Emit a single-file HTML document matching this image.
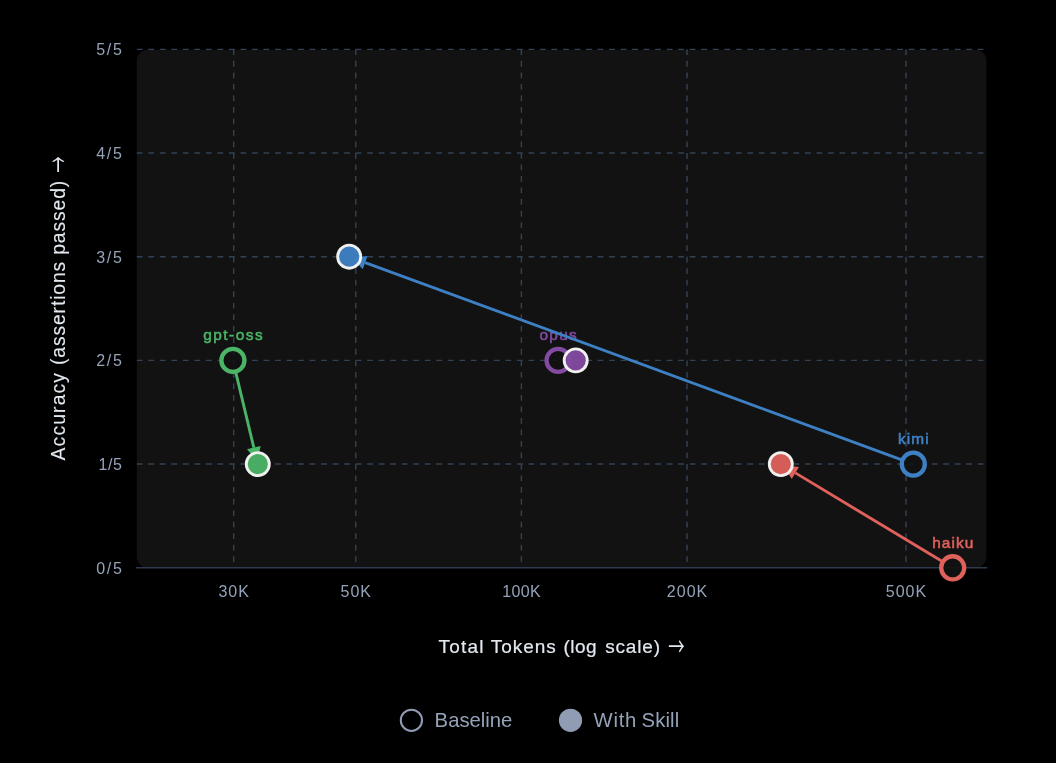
<!DOCTYPE html>
<html lang="en"><head><meta charset="utf-8"><title>Accuracy vs Total Tokens</title>
<style>
html,body{margin:0;padding:0;background:#000;}
body{width:1056px;height:763px;overflow:hidden;position:relative;font-family:"Liberation Sans", sans-serif;}
svg{position:absolute;left:0;top:0;display:block;}
text{font-family:"Liberation Sans", sans-serif;}
.tick{fill:#94a3b8;font-size:16px;}
.title{fill:#e2e8f0;font-size:19px;stroke:#e2e8f0;stroke-width:0.2px;}
.lbl{font-size:15.4px;stroke-width:0.55px;}
.leg{fill:#94a3b8;font-size:20.3px;}
</style></head><body>
<svg width="1056" height="763" viewBox="0 0 1056 763">
<rect x="136.80" y="49.65" width="849.60" height="518.10" rx="11" ry="11" fill="#121212"/>
<g stroke="#334155" stroke-width="1.44" stroke-dasharray="5.76 5.76" fill="none">
<line x1="136.80" y1="464.07" x2="986.40" y2="464.07"/>
<line x1="136.80" y1="360.39" x2="986.40" y2="360.39"/>
<line x1="136.80" y1="256.71" x2="986.40" y2="256.71"/>
<line x1="136.80" y1="153.03" x2="986.40" y2="153.03"/>
<line x1="136.80" y1="49.35" x2="986.40" y2="49.35"/>
<line x1="233.69" y1="49.35" x2="233.69" y2="567.75"/>
<line x1="355.76" y1="49.35" x2="355.76" y2="567.75"/>
<line x1="521.40" y1="49.35" x2="521.40" y2="567.75"/>
<line x1="687.03" y1="49.35" x2="687.03" y2="567.75"/>
<line x1="906.00" y1="49.35" x2="906.00" y2="567.75"/>
</g>
<line x1="136.80" y1="567.85" x2="986.40" y2="567.85" stroke="#2e3a4d" stroke-width="1.5" stroke-linecap="square"/>
<text class="tick" x="122.0" y="573.65" text-anchor="end" textLength="25.8" lengthAdjust="spacing">0/5</text>
<text class="tick" x="122.0" y="469.97" text-anchor="end" textLength="23.4" lengthAdjust="spacing">1/5</text>
<text class="tick" x="122.0" y="366.29" text-anchor="end" textLength="25.8" lengthAdjust="spacing">2/5</text>
<text class="tick" x="122.0" y="262.61" text-anchor="end" textLength="25.8" lengthAdjust="spacing">3/5</text>
<text class="tick" x="122.0" y="158.93" text-anchor="end" textLength="25.8" lengthAdjust="spacing">4/5</text>
<text class="tick" x="122.0" y="55.25" text-anchor="end" textLength="25.8" lengthAdjust="spacing">5/5</text>
<text class="tick" x="233.69" y="597.1" text-anchor="middle" textLength="30.4" lengthAdjust="spacing">30K</text>
<text class="tick" x="355.76" y="597.1" text-anchor="middle" textLength="30.4" lengthAdjust="spacing">50K</text>
<text class="tick" x="521.40" y="597.1" text-anchor="middle" textLength="38.4" lengthAdjust="spacing">100K</text>
<text class="tick" x="687.03" y="597.1" text-anchor="middle" textLength="40.4" lengthAdjust="spacing">200K</text>
<text class="tick" x="906.00" y="597.1" text-anchor="middle" textLength="40.4" lengthAdjust="spacing">500K</text>
<text class="title"><tspan x="438.6" y="653.2" textLength="45.0" lengthAdjust="spacing">Total</tspan> <tspan x="490.8" y="653.2" textLength="65.0" lengthAdjust="spacing">Tokens</tspan> <tspan x="563.4" y="653.2" textLength="33.2" lengthAdjust="spacing">(log</tspan> <tspan x="605.2" y="653.2" textLength="54.8" lengthAdjust="spacing">scale)</tspan> <tspan x="668.2" y="656.1" textLength="16.4" lengthAdjust="spacingAndGlyphs" style="font-family:&quot;Noto Sans CJK SC&quot;,&quot;Liberation Sans&quot;,sans-serif;font-size:25.5px;stroke:none">→</tspan></text>
<g transform="translate(64.7,460.6) rotate(-90)"><text class="title" style="font-size:19.3px;stroke-width:0.1px"><tspan x="0.2" y="0" textLength="87.4" lengthAdjust="spacing">Accuracy</tspan> <tspan x="95.6" y="0" textLength="103.2" lengthAdjust="spacing">(assertions</tspan> <tspan x="205.8" y="0" textLength="74.0" lengthAdjust="spacing">passed)</tspan> <tspan x="287.8" y="3.5" textLength="16.4" lengthAdjust="spacingAndGlyphs" style="font-family:&quot;Noto Sans CJK SC&quot;,&quot;Liberation Sans&quot;,sans-serif;font-size:25.5px;stroke:none">→</tspan></text></g>
<g>
<line x1="235.59" y1="371.60" x2="253.83" y2="447.57" stroke="#4bb467" stroke-width="2.88"/>
<polygon points="247.02,449.20 251.59,454.69 259.06,452.90 260.64,445.94" fill="#4bb467"/>
<circle cx="232.9" cy="360.4" r="11.52" fill="#121212" fill-opacity="0.9" stroke="#4bb467" stroke-width="4.32"/>
<circle cx="257.8" cy="464.1" r="11.52" fill="#4bb467" fill-opacity="0.96" stroke="#f0f0f0" stroke-width="2.88"/>
<text class="lbl" x="232.9" y="340.10" text-anchor="middle" fill="#4bb467" stroke="#4bb467" textLength="59.4" lengthAdjust="spacing">gpt-oss</text>
</g>
<g>
<circle cx="558.1" cy="360.4" r="11.52" fill="#121212" fill-opacity="0.9" stroke="#824aa0" stroke-width="4.32"/>
<circle cx="575.7" cy="360.4" r="11.52" fill="#824aa0" fill-opacity="0.96" stroke="#f0f0f0" stroke-width="2.88"/>
<text class="lbl" x="558.1" y="340.10" text-anchor="middle" fill="#824aa0" stroke="#824aa0" textLength="37.0" lengthAdjust="spacing">opus</text>
</g>
<g>
<line x1="942.84" y1="561.85" x2="795.36" y2="472.88" stroke="#de615c" stroke-width="2.88"/>
<polygon points="798.97,466.89 791.86,466.28 787.89,472.87 791.74,478.88" fill="#de615c"/>
<circle cx="952.7" cy="567.8" r="11.52" fill="#121212" fill-opacity="0.9" stroke="#de615c" stroke-width="4.32"/>
<circle cx="780.8" cy="464.1" r="11.52" fill="#de615c" fill-opacity="0.96" stroke="#f0f0f0" stroke-width="2.88"/>
<text class="lbl" x="952.7" y="547.50" text-anchor="middle" fill="#de615c" stroke="#de615c" textLength="41.1" lengthAdjust="spacing">haiku</text>
</g>
<g>
<line x1="902.49" y1="460.12" x2="365.16" y2="262.57" stroke="#3e80c4" stroke-width="2.88"/>
<polygon points="367.57,256.00 360.48,256.75 357.82,263.97 362.74,269.14" fill="#3e80c4"/>
<circle cx="913.3" cy="464.1" r="11.52" fill="#121212" fill-opacity="0.9" stroke="#3e80c4" stroke-width="4.32"/>
<circle cx="349.2" cy="256.7" r="11.52" fill="#3e80c4" fill-opacity="0.96" stroke="#f0f0f0" stroke-width="2.88"/>
<text class="lbl" x="913.3" y="443.80" text-anchor="middle" fill="#3e80c4" stroke="#3e80c4" textLength="30.6" lengthAdjust="spacing">kimi</text>
</g>
<circle cx="411.4" cy="720.3" r="10.6" fill="none" stroke="#8f9cb4" stroke-width="2"/>
<text class="leg" x="434.6" y="726.7" textLength="77.8" lengthAdjust="spacing">Baseline</text>
<circle cx="570.5" cy="720.3" r="11.6" fill="#8f9cb4"/>
<text class="leg"><tspan x="593.6" y="726.7" textLength="42.8" lengthAdjust="spacing">With</tspan> <tspan x="641.6" y="726.7" textLength="37.6" lengthAdjust="spacing">Skill</tspan></text>
</svg></body></html>
